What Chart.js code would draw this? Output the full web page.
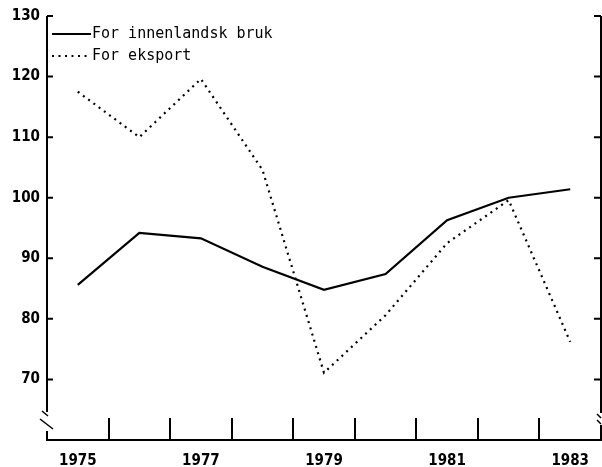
<!DOCTYPE html>
<html>
<head>
<meta charset="utf-8">
<script src="https://cdn.jsdelivr.net/npm/chart.js@4.4.0/dist/chart.umd.min.js"></script>
<style>
  html, body { margin: 0; padding: 0; background: #fff; }
  #wrap { width: 602px; height: 467px; }
</style>
</head>
<body>
<div id="wrap"><canvas id="indeks" width="602" height="467"></canvas></div>
<script>
// --- Daten ---
const years = ["1975", "1976", "1977", "1978", "1979", "1980", "1981", "1982", "1983"];
const innenlandsk = [85.6, 94.2, 93.3, 88.6, 84.8, 87.4, 96.3, 100.0, 101.4];
const eksport = [117.5, 110.0, 119.6, 104.6, 71.1, 80.6, 92.5, 99.6, 76.2];
const yTicks = [70, 80, 90, 100, 110, 120, 130];
const xLabelYears = ["1975", "1977", "1979", "1981", "1983"];
const seriesNames = ["For innenlandsk bruk", "For eksport"];

const ink = "#000";

// --- Achsen, Striche, Bruchzeichen und Legende selbst zeichnen ---
const achsenPlugin = {
    id: "achsen",
    afterDraw(chart) {
        const ctx = chart.ctx;
        const area = chart.chartArea;
        const x = chart.scales.x;
        const y = chart.scales.y;
        const top = y.getPixelForValue(130);

        ctx.save();
        ctx.strokeStyle = ink;
        ctx.lineWidth = 2;
        ctx.lineCap = "butt";

        // linke Achse mit Bruch
        ctx.beginPath();
        ctx.moveTo(area.left, top);
        ctx.lineTo(area.left, area.bottom - 28);
        ctx.moveTo(area.left, area.bottom - 9);
        ctx.lineTo(area.left, area.bottom);
        // rechte Achse mit Bruch
        ctx.moveTo(area.right, top);
        ctx.lineTo(area.right, area.bottom - 27);
        ctx.moveTo(area.right, area.bottom - 15);
        ctx.lineTo(area.right, area.bottom);
        // x-Achse
        ctx.moveTo(area.left - 1, area.bottom);
        ctx.lineTo(area.right + 1, area.bottom);
        ctx.stroke();

        // Bruchzeichen
        ctx.lineWidth = 1.5;
        ctx.beginPath();
        ctx.moveTo(area.left - 5, area.bottom - 29);
        ctx.lineTo(area.left + 1, area.bottom - 24);
        ctx.moveTo(area.left - 7, area.bottom - 21);
        ctx.lineTo(area.left + 6, area.bottom - 11);
        ctx.moveTo(area.right - 4, area.bottom - 26);
        ctx.lineTo(area.right, area.bottom - 22);
        ctx.moveTo(area.right - 4, area.bottom - 20);
        ctx.lineTo(area.right, area.bottom - 16);
        ctx.stroke();

        // Striche nach innen
        ctx.lineWidth = 2;
        ctx.beginPath();
        yTicks.forEach(v => {
            const py = y.getPixelForValue(v);
            ctx.moveTo(area.left, py);
            ctx.lineTo(area.left + 6, py);
            ctx.moveTo(area.right, py);
            ctx.lineTo(area.right - 7, py);
        });
        for (let i = 0; i < years.length - 1; i++) {
            const px = Math.round((x.getPixelForValue(i) + x.getPixelForValue(i + 1)) / 2);
            ctx.moveTo(px, area.bottom);
            ctx.lineTo(px, area.bottom - 22);
        }
        ctx.stroke();

        // Legende
        ctx.font = "15px 'DejaVu Sans Mono'";
        ctx.fillStyle = ink;
        ctx.textBaseline = "middle";
        ctx.textAlign = "left";
        chart.data.datasets.forEach((ds, i) => {
            const ry = 34 + i * 22;
            ctx.beginPath();
            ctx.lineWidth = ds.borderWidth;
            ctx.setLineDash(ds.borderDash || []);
            ctx.moveTo(area.left + 5, ry);
            ctx.lineTo(area.left + 44, ry);
            ctx.stroke();
            ctx.setLineDash([]);
            ctx.fillText(ds.label, area.left + 45, ry);
        });
        ctx.restore();
    }
};

const ctx = document.getElementById("indeks").getContext("2d");

new Chart(ctx, {
    type: "line",
    data: {
        labels: years,
        datasets: [
            {
                label: seriesNames[0],
                data: innenlandsk,
                borderColor: ink,
                borderWidth: 2.2,
                pointRadius: 0,
                tension: 0,
                fill: false
            },
            {
                label: seriesNames[1],
                data: eksport,
                borderColor: ink,
                borderWidth: 2.2,
                borderDash: [2, 4.5],
                pointRadius: 0,
                tension: 0,
                fill: false
            }
        ]
    },
    options: {
        responsive: false,
        animation: false,
        layout: { padding: { top: 16, right: 1, left: 0, bottom: 0 } },
        plugins: {
            legend: { display: false },
            tooltip: { enabled: false }
        },
        scales: {
            x: {
                type: "category",
                offset: true,
                grid: { display: false, drawTicks: false },
                border: { display: false },
                ticks: {
                    autoSkip: false,
                    maxRotation: 0,
                    padding: 12,
                    color: ink,
                    font: { family: "DejaVu Sans Condensed, DejaVu Sans", size: 15, weight: "bold" },
                    callback: (v, i) => xLabelYears.includes(years[i]) ? years[i] : ""
                },
                afterFit: s => { s.height = 27; }
            },
            y: {
                min: 60,
                max: 130,
                grid: { display: false, drawTicks: false },
                border: { display: false },
                ticks: {
                    stepSize: 10,
                    padding: 7,
                    color: ink,
                    font: { family: "DejaVu Sans Condensed, DejaVu Sans", size: 15, weight: "bold" },
                    callback: v => yTicks.includes(v) ? v : ""
                },
                afterFit: s => { s.width = 47; }
            }
        }
    },
    plugins: [achsenPlugin]
});
</script>
</body>
</html>
